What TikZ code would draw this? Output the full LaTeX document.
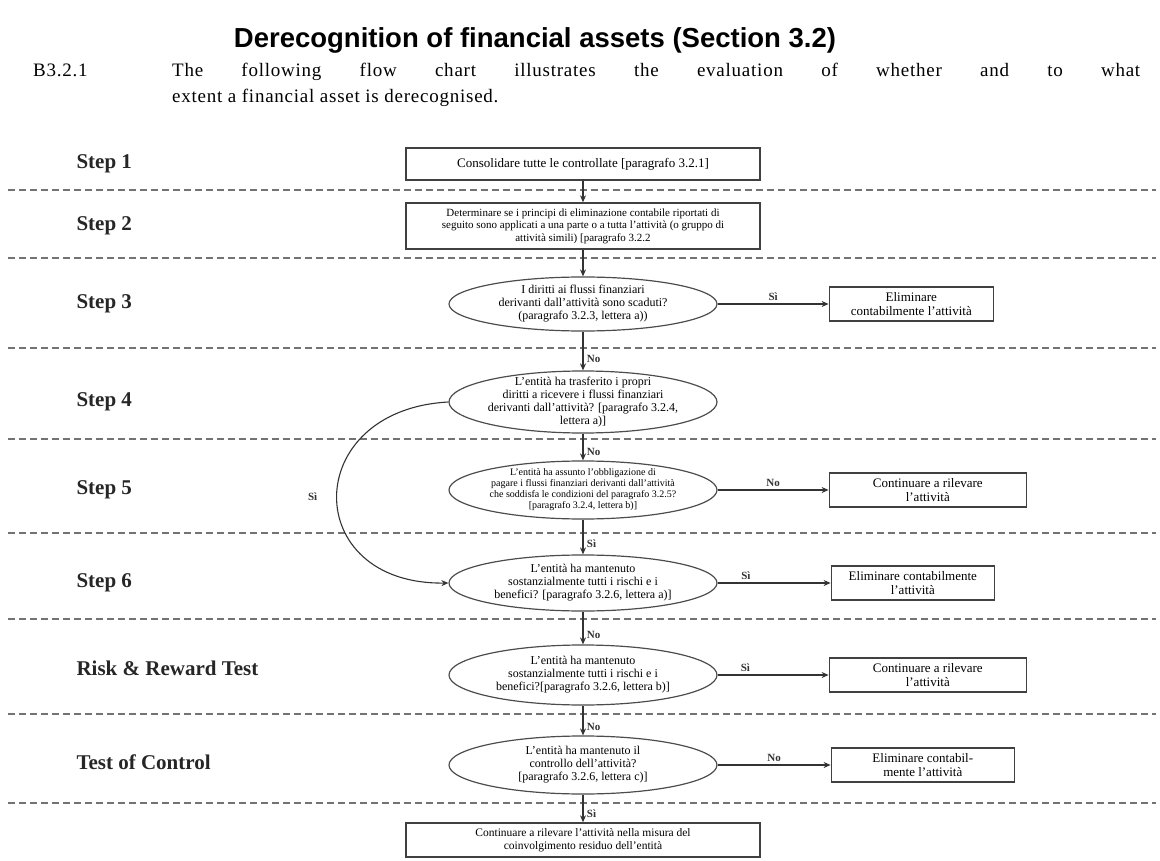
\documentclass[tikz,border=0pt]{standalone}
\usepackage{fontspec}
\setmainfont{Liberation Serif}
\newfontfamily\headfont{Liberation Sans}
\newfontfamily\introfont[LetterSpace=4]{Liberation Serif}
\usetikzlibrary{shapes.geometric, arrows.meta, positioning, calc}

\tikzset{
	box/.style={draw=black!75, line width=1.4pt, align=center, inner sep=2pt, minimum height=34pt, font=\fontsize{13}{14}\selectfont},
	query/.style={ellipse, draw=black!70, line width=1.2pt, align=center, inner xsep=-40pt, inner ysep=-30pt, minimum width=268pt, minimum height=56pt, font=\fontsize{12}{13}\selectfont},
	flow/.style={line width=1.1pt, black!80, -{Stealth[length=7pt,width=6pt]}},
	answer/.style={font=\fontsize{11}{12}\selectfont\bfseries, text=black!80},
	lane/.style={line width=1.6pt, black!55, dash pattern=on 7pt off 4pt},
	steplabel/.style={anchor=west, font=\fontsize{21}{24}\selectfont\bfseries, text=black!85},
	intro/.style={anchor=base west, inner sep=0pt, font=\introfont\fontsize{19}{22}\selectfont}
}

\begin{document}
\begin{tikzpicture}[x=1pt, y=-1pt]
	\useasboundingbox (0,0) rectangle (1160,861);
	% heading and intro text
	\node (title) at (535,40) {\headfont\bfseries\fontsize{27.5}{30}\selectfont Derecognition of financial assets (Section 3.2)};
	\node (secnum) [intro] at (33,77) {B3.2.1};
	\node (intro1) [intro] at (172,77) {\makebox[968pt][s]{The following flow chart illustrates the evaluation of whether and to what}};
	\node (intro2) [intro] at (172,103) {extent a financial asset is derecognised.};
	% lanes
	\foreach \y in {190,258,348,439,533,619,714,803}
		\draw [lane] (8,\y) -- (1156,\y);
	\foreach \y/\name [count=\i] in {164/Step 1, 226/Step 2, 304/Step 3, 402/Step 4, 490/Step 5, 583/Step 6, 668/Risk \& Reward Test, 762/Test of Control}
		\node (lab\i) [steplabel] at (73,\y) {\name};
	% flow chart
	\node (consol) [box, minimum width=354pt, minimum height=32pt] at (583,164) {Consolidare tutte le controllate [paragrafo 3.2.1]};
	\node (scope) [box, minimum width=354pt, minimum height=46pt, font=\fontsize{11}{12.5}\selectfont] at (583,226) {Determinare se i principi di eliminazione contabile riportati di\\ seguito sono applicati a una parte o a tutta l'attività (o gruppo di\\ attività simili) [paragrafo 3.2.2};
	\node (q3) [query, minimum height=54pt] at (583,304) {I diritti ai flussi finanziari\\ derivanti dall'attività sono scaduti?\\ (paragrafo 3.2.3, lettera a))};
	\node (r3) [box, minimum width=164pt, right=111pt of q3] {Eliminare\\ contabilmente l'attività};
	\node (q4) [query, minimum height=62pt] at (583,402) {L'entità ha trasferito i propri\\ diritti a ricevere i flussi finanziari\\ derivanti dall'attività? [paragrafo 3.2.4,\\ lettera a)]};
	\node (q5) [query, minimum height=58pt, font=\fontsize{10}{11}\selectfont] at (583,490) {L'entità ha assunto l'obbligazione di\\ pagare i flussi finanziari derivanti dall'attività\\ che soddisfa le condizioni del paragrafo 3.2.5?\\ {[paragrafo 3.2.4, lettera b)]}};
	\node (r5) [box, minimum width=197pt, right=111pt of q5] {Continuare a rilevare\\ l'attività};
	\node (q6) [query, minimum height=56pt] at (583,583) {L'entità ha mantenuto\\ sostanzialmente tutti i rischi e i\\ benefici? [paragrafo 3.2.6, lettera a)]};
	\node (r6) [box, minimum width=163pt, right=113pt of q6] {Eliminare contabilmente\\ l'attività};
	\node (qrr) [query, minimum height=60pt] at (583,675) {L'entità ha mantenuto\\ sostanzialmente tutti i rischi e i\\ benefici?[paragrafo 3.2.6, lettera b)]};
	\node (rrr) [box, minimum width=197pt, right=111pt of qrr] {Continuare a rilevare\\ l'attività};
	\node (qtoc) [query, minimum height=58pt] at (583,765) {L'entità ha mantenuto il\\ controllo dell'attività?\\ {[paragrafo 3.2.6, lettera c)]}};
	\node (rtoc) [box, minimum width=183pt, right=113pt of qtoc] {Eliminare contabil-\\ mente l'attività};
	\node (final) [box, minimum width=354pt, font=\fontsize{11.5}{13}\selectfont] at (583,840) {Continuare a rilevare l'attività nella misura del\\ coinvolgimento residuo dell'entità};
	% connectors
	\draw [flow] (consol) -- (scope);
	\draw [flow] (scope) -- (q3);
	\draw [flow] (q3) -- node [answer, above] {Sì} (r3);
	\draw [flow] (q3) -- node [answer, right, pos=0.7] {No} (q4);
	\draw [flow] (q4) -- node [answer, right, pos=0.7] {No} (q5);
	\draw [flow] (q4.west) .. controls (300,410) and (300,585) .. node [answer, left=16pt] {Sì} (q6.west);
	\draw [flow] (q5) -- node [answer, above] {No} (r5);
	\draw [flow] (q5) -- node [answer, right, pos=0.7] {Sì} (q6);
	\draw [flow] (q6) -- node [answer, above, pos=0.25] {Sì} (r6);
	\draw [flow] (q6) -- node [answer, right, pos=0.7] {No} (qrr);
	\draw [flow] (qrr) -- node [answer, above, pos=0.25] {Sì} (rrr);
	\draw [flow] (qrr) -- node [answer, right, pos=0.7] {No} (qtoc);
	\draw [flow] (qtoc) -- node [answer, above] {No} (rtoc);
	\draw [flow] (qtoc) -- node [answer, right, pos=0.7] {Sì} (final);
\end{tikzpicture}
\end{document}
